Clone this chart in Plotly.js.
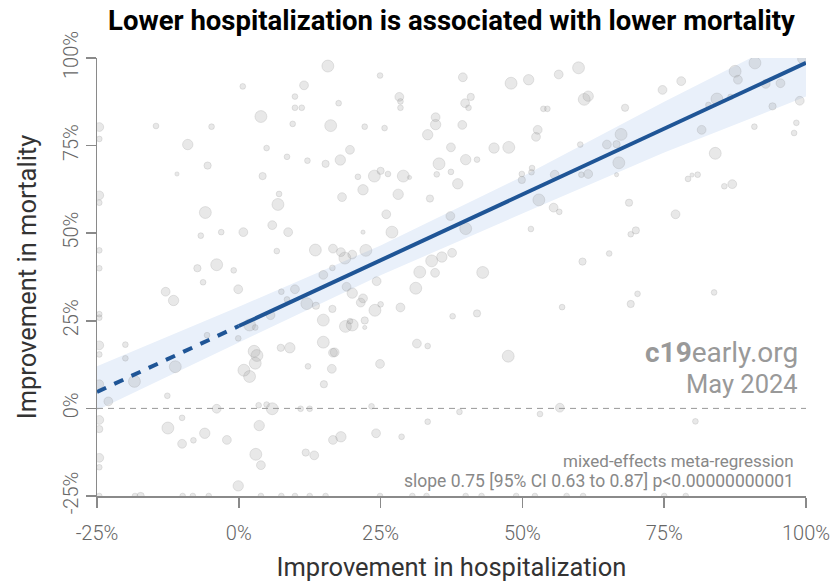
<!DOCTYPE html>
<html>
<head>
<meta charset="utf-8">
<script src="https://cdn.plot.ly/plotly-3.0.1.min.js"></script>
<style>
  html, body { margin: 0; padding: 0; background: #fff; }
  #chart { width: 835px; height: 586px; }
</style>
</head>
<body>
<div id="chart"></div>
<script>
// ---- Data (percent improvement) ----
const hospX = [
  15.7, 11.5, 0.7, 9.9, 9.9, 11.1, 3.9, 9.5, 16.2, -14.6, -4.8, -24.6, -24.6, -9, 4.9, 8.5, 12.1, 15.3, -5.5, -10.9,
  4.2, 7.1, -24.6, -24.6, 6.9, -5.9, 5.9, 8.7, 0.8, -3.1, -6.7, -24.6, 13.5, 16.6, 6.7, -24.6, -7.3, -3.9, -0.9, 14.9,
  16.5, 24.9, 39.5, 48, 51.1, 56.4, 17.6, 28.3, 28.5, 28.5, 40.9, 39.9, 40.5, 53.7, 54.4, 34.7, 34.7, 22.2, 25.7, 39.4,
  33.3, 52.7, 52.4, 19.6, 17.9, 37.4, 45, 47.6, 35.3, 40, 42, 25, 23.9, 21, 26.3, 29, 30.1, 34.9, 37.4, 38.6,
  21.9, 18.2, 28.1, 33.7, 49.9, 51.6, 51.7, 49.9, 55.7, 52.9, 55.5, 56.5, 51.5, 37.3, 40, 26, 27, 21.9, 18, 22.4,
  18.7, 20, 37.6, 34, 35.8, 31.9, 34.6, 43, 59.9, 60.9, 61.6, 68.1, 74.7, 78, 87.5, 91, 88, 92.9, 95.5, 99.3,
  84.3, 82.8, 86.7, 94.1, 98.9, 81.6, 90.9, 98.3, 97.9, 67.4, 64.9, 66.6, 60.2, 67, 61.6, 60.4, 66.6, 84, 79.2, 79.9,
  80.9, 87, 85.6, 68.8, 77, 70, 69.1, 65.3, 60.6, -12.9, -11.5, -6.3, -0.1, -24.6, -24.6, -24.6, -24.6, -20, -20, -24.6,
  -23, -18.4, -11.2, -12.6, -5.6, -0.1, 1.9, 2.9, 5.6, 7.5, 9.9, 8.5, 12, 13.6, 14.9, 16.5, 14.9, 16.6, 12.2, 16.4,
  15, 2.7, 3.2, 2.9, 0.9, 1.9, 7.4, 9, -3.9, 3.5, 4.9, 5.9, 10.9, 12.5, -24.6, -24.6, -12.5, -10, -6, -8,
  -10, -2.1, 3.6, 16.6, -24.6, -24.6, 3, 3.9, 11.8, 13.3, -0.1, -18.3, -17.3, -9.9, -8.1, -5.3, 3.9, 7.5, 9.9, 12.5,
  15.3, -24.6, 31.2, 24.3, 19, 20, 21.9, 21.5, 25, 24, 28.5, 22.2, 22.2, 18.8, 20, 19.6, 16.9, 24.9, 31.4, 33.3,
  37.7, 42, 47.5, 57, 23.4, 38.9, 53.1, 56.6, 33.3, 18, 24.2, 28.7, 24.9, 30.6, 33.1, 40, 42.8, 48.9, 52.2, 57.8,
  69.1, 70.3, 83.8, 80.5, 60.7, 75, 78.8
];
const mortY = [
  97.7, 92.2, 91.9, 89, 85.8, 85.8, 83.3, 81.2, 80.7, 80.6, 80.4, 80.3, 76.9, 75.3, 74.3, 71.8, 70.7, 69.8, 69.3, 66.9,
  66.3, 61.2, 60.8, 58.7, 58.2, 55.9, 52.3, 50.3, 50.3, 50.3, 49.3, 45.1, 45.2, 45.6, 44.9, 40, 40, 41, 39.4, 38.1,
  40.1, 95, 94.5, 92.8, 93.8, 95.3, 87.1, 88.9, 87.6, 85.8, 88.9, 87.1, 85.8, 85.5, 85.5, 83.1, 81, 80.4, 80, 80.9,
  78.1, 79.5, 77.5, 73.8, 70.9, 74.5, 74.3, 74.5, 69.8, 71, 71, 67.8, 66.3, 66.1, 66.9, 66.3, 65.9, 66.8, 67.5, 64.1,
  62.4, 60.3, 61.1, 59.9, 66.9, 67.4, 68.6, 65.2, 66.7, 59.5, 57.3, 56.1, 51.2, 54.9, 51.3, 55.4, 50.3, 50.3, 44.6, 45.1,
  42.9, 43.9, 44.4, 42.1, 43.2, 38.9, 38.7, 38.8, 97.2, 88.2, 89.1, 85.8, 90.9, 93.4, 96.2, 98.6, 93.8, 92.6, 92.8, 99.7,
  88.3, 86.6, 88.9, 86.2, 87.8, 79.5, 80.4, 81.5, 78.6, 78.2, 75.3, 75.4, 75.3, 70.1, 66.9, 66.7, 66.7, 72.8, 65.5, 66.6,
  66.7, 64, 63.4, 58.7, 55.4, 50.8, 49.7, 44.2, 41.9, 33.3, 30.8, 36, 34, 26.9, 25.9, 18, 15.4, 18.2, 14.3, 6.9,
  2, 7.7, 11.9, 3.6, 20.9, 20, 23.8, 23.1, 26.6, 33.3, 34, 31.1, 29.9, 29.3, 25.2, 28.4, 18.9, 15.9, 12, 11.3,
  6.9, 16.3, 15.1, 12.9, 10.9, 9.1, 17.3, 17.3, -0.1, 0.9, 1.1, -0.1, -0.1, -0.1, -3.3, -5.9, -5.6, -2.7, -7.1, -9.1,
  -10.1, -9, -4.9, -9, -14.1, -16.8, -13.1, -16.2, -12.6, -13.4, -22.1, -25, -25, -25, -25, -25, -25, -25, -25, -25,
  -25, -25, 34.3, 36.3, 34.7, 32.9, 31.4, 30.2, 29.7, 28, 28.8, 25.1, 23.1, 23.4, 23.8, 24.9, 16, 12.7, 18.5, 17.8,
  26.3, 27.1, 14.9, 28.9, 0.6, -1, -1.6, 0.2, -3.8, -8.1, -7.1, -8.1, -25, -25, -25, -25, -25, -25, -25, -25,
  29.8, 32.7, 33.1, -3.7, -25, -25, -25
];
// relative study weight (1 = smallest, 6 = largest)
const weight = [
  6, 4, 2, 2, 2, 2, 6, 2, 6, 2, 2, 4, 2, 5, 2, 2, 2, 3, 3, 1,
  3, 2, 4, 2, 6, 6, 4, 4, 4, 2, 2, 2, 6, 4, 2, 2, 3, 6, 2, 4,
  2, 2, 4, 6, 5, 4, 2, 4, 2, 2, 3, 4, 2, 2, 2, 4, 5, 2, 2, 4,
  5, 4, 4, 4, 5, 4, 5, 6, 6, 5, 2, 3, 6, 2, 2, 6, 1, 2, 2, 5,
  5, 4, 5, 3, 2, 2, 2, 3, 4, 6, 4, 2, 2, 4, 6, 4, 6, 1, 4, 6,
  6, 4, 4, 6, 5, 6, 4, 6, 6, 6, 5, 3, 4, 4, 6, 6, 4, 4, 4, 4,
  6, 2, 2, 3, 4, 4, 2, 2, 2, 6, 4, 3, 2, 6, 4, 2, 1, 6, 2, 1,
  2, 4, 2, 3, 4, 3, 2, 2, 3, 4, 5, 2, 4, 2, 2, 4, 2, 2, 2, 4,
  4, 6, 6, 2, 2, 2, 6, 2, 4, 2, 4, 2, 6, 3, 6, 3, 6, 4, 2, 4,
  3, 6, 6, 6, 6, 6, 3, 5, 4, 2, 2, 6, 2, 2, 4, 3, 6, 2, 5, 2,
  4, 4, 5, 4, 4, 2, 6, 4, 3, 4, 5, 2, 3, 2, 2, 2, 2, 2, 2, 2,
  2, 2, 6, 4, 4, 5, 4, 4, 2, 6, 4, 3, 1, 6, 6, 2, 4, 4, 4, 2,
  2, 3, 6, 2, 2, 2, 2, 4, 2, 5, 4, 2, 2, 2, 2, 2, 2, 2, 2, 2,
  3, 2, 2, 2, 2, 2, 2
];

// Fitted regression line
const fitX = [-25, 0, 100];
const fitY = [4.7, 23.5, 98.6];
// 95% confidence band
const bandX  = [-25, 0, 25, 50, 75, 100];
const bandHi = [12, 29, 46.5, 66.2, 87.5, 108];
const bandLo = [-0.5, 18.8, 38, 55.6, 73, 89];

const tickVals = [-25, 0, 25, 50, 75, 100];
const tickText = ['-25%', '0%', '25%', '50%', '75%', '100%'];

// ---- Traces ----
const band = {
  x: bandX.concat(bandX.slice().reverse()),
  y: bandHi.concat(bandLo.slice().reverse()),
  type: 'scatter', mode: 'lines', fill: 'toself',
  fillcolor: 'rgb(233,240,250)', line: { width: 0 }, hoverinfo: 'skip', showlegend: false
};
const points = {
  x: hospX, y: mortY, type: 'scatter', mode: 'markers', showlegend: false,
  marker: {
    size: weight.map(w => 2.6 + 1.55 * w),
    color: 'rgba(150,150,150,0.3)',
    line: { color: 'rgba(130,130,130,0.28)', width: 1 }
  }
};
const fitDashed = {
  x: fitX.slice(0, 2), y: fitY.slice(0, 2), type: 'scatter', mode: 'lines', showlegend: false,
  line: { color: '#1f5596', width: 4, dash: '10px,9px' }
};
const fitSolid = {
  x: fitX.slice(1), y: fitY.slice(1), type: 'scatter', mode: 'lines', showlegend: false,
  line: { color: '#1f5596', width: 4 }
};

const axisCommon = {
  range: [-25, 100], showgrid: false, zeroline: false,
  showline: true, linecolor: '#8a8a8a', linewidth: 1.5,
  ticks: 'outside', ticklen: 10, tickwidth: 1.5, tickcolor: '#8a8a8a',
  tickvals: tickVals, ticktext: tickText,
  tickfont: { family: 'Roboto', size: 20, color: '#666', weight: 300 }
};

const layout = {
  width: 835, height: 586,
  margin: { l: 97, r: 29, t: 58, b: 90 },
  paper_bgcolor: '#fff', plot_bgcolor: '#fff',
  title: {
    text: '<b>Lower hospitalization is associated with lower mortality</b>',
    font: { family: 'Roboto', size: 27.5, color: '#000' },
    x: 0.5, xref: 'paper', y: 0.966, yref: 'container', yanchor: 'middle'
  },
  xaxis: Object.assign({}, axisCommon, {
    ticklabelstandoff: 8,
    title: { text: 'Improvement in hospitalization', font: { family: 'Roboto', size: 25.5, color: '#333' }, standoff: 14 }
  }),
  yaxis: Object.assign({}, axisCommon, {
    tickangle: -90,
    title: { text: 'Improvement in mortality', font: { family: 'Roboto', size: 25.5, color: '#333' }, standoff: 14 }
  }),
  shapes: [{
    type: 'line', xref: 'paper', x0: 0, x1: 1, yref: 'y', y0: 0, y1: 0,
    line: { color: '#999', width: 1, dash: '6px,5px' }, layer: 'above'
  }],
  annotations: [
    { text: '<b>c19</b>early.org', xref: 'paper', yref: 'paper', x: 0.9915, y: 0.327, xanchor: 'right', yanchor: 'middle',
      showarrow: false, font: { family: 'Roboto', size: 28, color: '#999' } },
    { text: 'May 2024', xref: 'paper', yref: 'paper', x: 0.9915, y: 0.256, xanchor: 'right', yanchor: 'middle',
      showarrow: false, font: { family: 'Roboto', size: 25.5, color: '#999' } },
    { text: 'mixed-effects meta-regression', xref: 'paper', yref: 'paper', x: 0.986, y: 0.08, xanchor: 'right', yanchor: 'middle',
      showarrow: false, font: { family: 'Roboto', size: 17, color: '#888' } },
    { text: 'slope 0.75 [95% CI 0.63 to 0.87] p<0.00000000001', xref: 'paper', yref: 'paper', x: 0.986, y: 0.034, xanchor: 'right', yanchor: 'middle',
      showarrow: false, font: { family: 'Roboto', size: 17.5, color: '#888' } }
  ]
};

Plotly.newPlot('chart', [band, points, fitDashed, fitSolid], layout, { displayModeBar: false, staticPlot: true });
</script>
</body>
</html>
